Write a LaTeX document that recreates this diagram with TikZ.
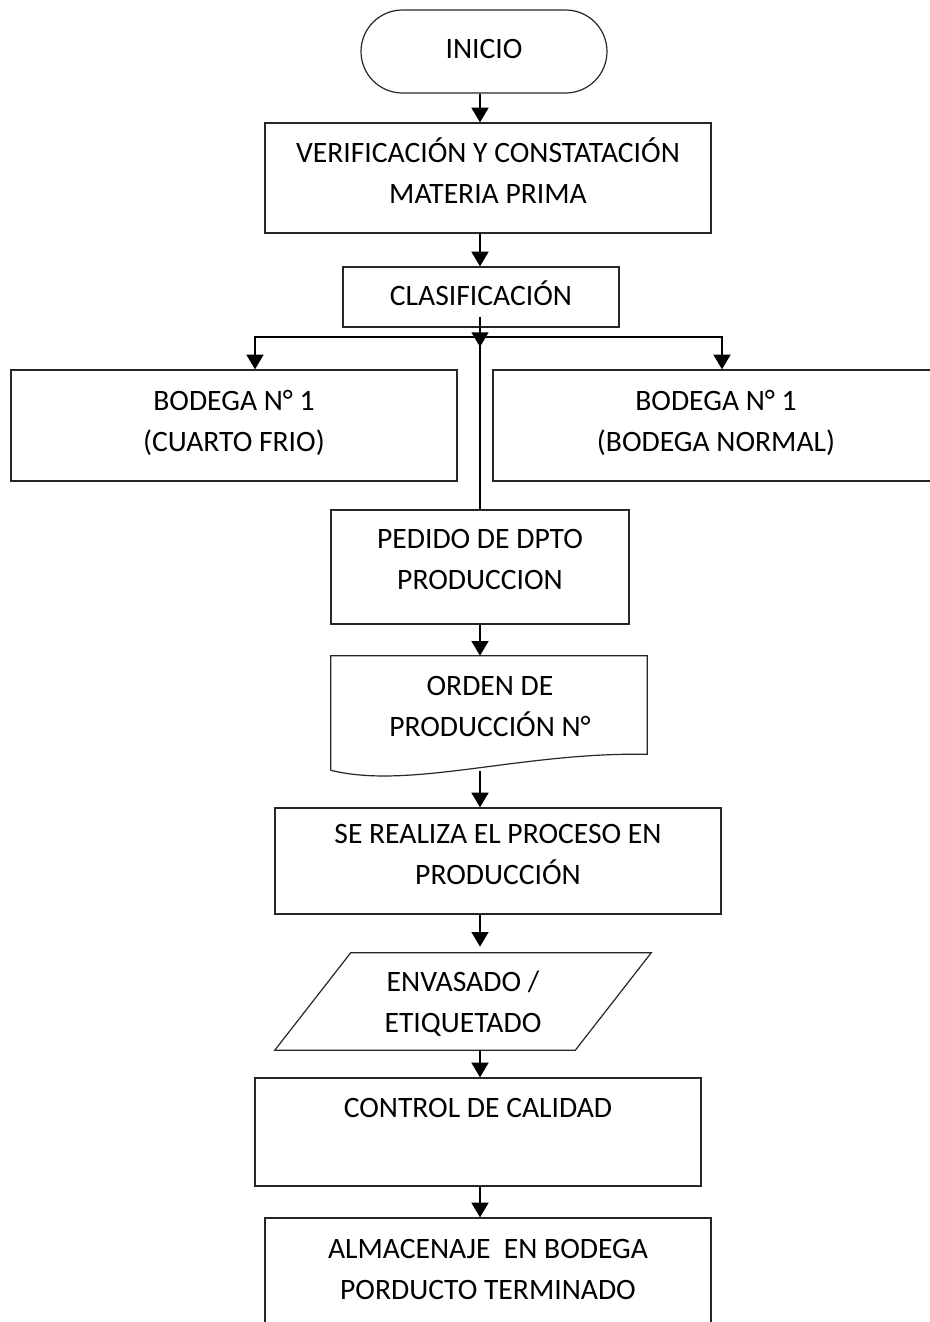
\documentclass[tikz,border=0pt]{standalone}
\usepackage{fontspec}
\setmainfont{Carlito}
\usetikzlibrary{shapes.misc,arrows.meta,calc}
\begin{document}
\begin{tikzpicture}[x=0.75pt,y=-0.75pt,
  boxline/.style={draw=black!85, line width=0.9pt, line join=miter},
  box/.style={boxline, rectangle, inner sep=0pt},
  w446/.style={minimum width=334.5pt},
  txt/.style={font=\fontsize{22.2pt}{30.75pt}\selectfont, align=center, inner sep=0pt},
  one/.style={txt, text height=14.3pt, text depth=0pt},
  two/.style={txt, text height=45.05pt, text depth=0pt},
  arr/.style={line width=1.8pt, -{Triangle[length=11pt,width=12.5pt]}},
  thinlink/.style={line width=1pt}]

\useasboundingbox (0,0) rectangle (929,1322);
\coordinate (spine) at (480,0);

% start terminal
\node[box, rounded rectangle, minimum width=184.5pt, minimum height=62.25pt] (inicio) at (484,51.5) {};
\node[one] (inicio-t) at (484,49) {INICIO};

% process boxes
\node[box, w446, minimum height=82.5pt] (verif) at (488,178) {};
\node[two] (verif-t) at (488,173) {VERIFICACIÓN Y CONSTATACIÓN\\MATERIA PRIMA};

\node[box, minimum width=207pt, minimum height=45pt] (clasif) at (481,297) {};
\node[one] (clasif-t) at (481,296) {CLASIFICACIÓN};

\node[box, w446, minimum height=83.25pt] (bod1) at (234,425.5) {};
\node[two] (bod1-t) at (234,421) {BODEGA N° 1\\(CUARTO FRIO)};

\node[box, w446, minimum height=83.25pt] (bod2) at (716,425.5) {};
\node[two] (bod2-t) at (716,421) {BODEGA N° 1\\(BODEGA NORMAL)};

\node[box, minimum width=223.5pt, minimum height=85.5pt] (pedido) at (480,567) {};
\node[two] (pedido-t) at (480,559.5) {PEDIDO DE DPTO\\PRODUCCION};

% document shape with wavy bottom
\node[inner sep=0pt, minimum width=237pt, minimum height=73.5pt] (orden) at (489,705) {};
\draw[boxline] ($(orden.south west)+(0,16)$) -- (orden.north west) -- (orden.north east) -- (orden.south east)
  .. controls (520,752) and (410,790) .. ($(orden.south west)+(0,16)$);
\node[two] (orden-t) at (490,706.5) {ORDEN DE\\PRODUCCIÓN N°};
\coordinate (orden-out) at (480,771);

\node[box, w446, minimum height=79.5pt] (proc) at (498,861) {};
\node[two] (proc-t) at (498,854.5) {SE REALIZA EL PROCESO EN\\PRODUCCIÓN};

% input/output parallelogram
\node[inner sep=0pt, minimum width=225pt, minimum height=72.75pt] (env) at (463,1001.5) {};
\draw[boxline] ($(env.north west)+(38,0)$) -- ($(env.north east)+(38,0)$)
  -- ($(env.south east)+(-38,0)$) -- ($(env.south west)+(-38,0)$) -- cycle;
\node[two] (env-t) at (463,1002.5) {ENVASADO /\\ETIQUETADO};

\node[box, w446, minimum height=81pt] (control) at (478,1132) {};
\node[one] (control-t) at (478,1108) {CONTROL DE CALIDAD};

\node[box, w446, minimum height=82.5pt] (almac) at (488,1273) {};
\node[two] (almac-t) at (488,1269.5) {ALMACENAJE\ \ EN BODEGA\\PORDUCTO TERMINADO};

% connectors
\coordinate (split) at (480,337);
\coordinate (lj) at (255,337);
\coordinate (rj) at (722,337);

\draw[arr] (inicio.south -| spine) -- (verif.north -| spine);
\draw[arr] (verif.south -| spine) -- (clasif.north -| spine);
\draw[arr] (split) -| (lj |- bod1.north);
\draw[arr] (split) -| (rj |- bod2.north);
\draw[arr] ($(clasif.south -| spine)+(0,-11)$) -- ($(split)+(0,10)$);
\draw[thinlink] (split) -- (split |- pedido.north);
\draw[arr] (pedido.south -| spine) -- (orden.north -| spine);
\draw[arr] (orden-out) -- (proc.north -| spine);
\draw[arr, shorten >=4.5pt] (proc.south -| spine) -- (env.north -| spine);
\draw[arr] (env.south -| spine) -- (control.north -| spine);
\draw[arr] (control.south -| spine) -- (almac.north -| spine);
\end{tikzpicture}
\end{document}
